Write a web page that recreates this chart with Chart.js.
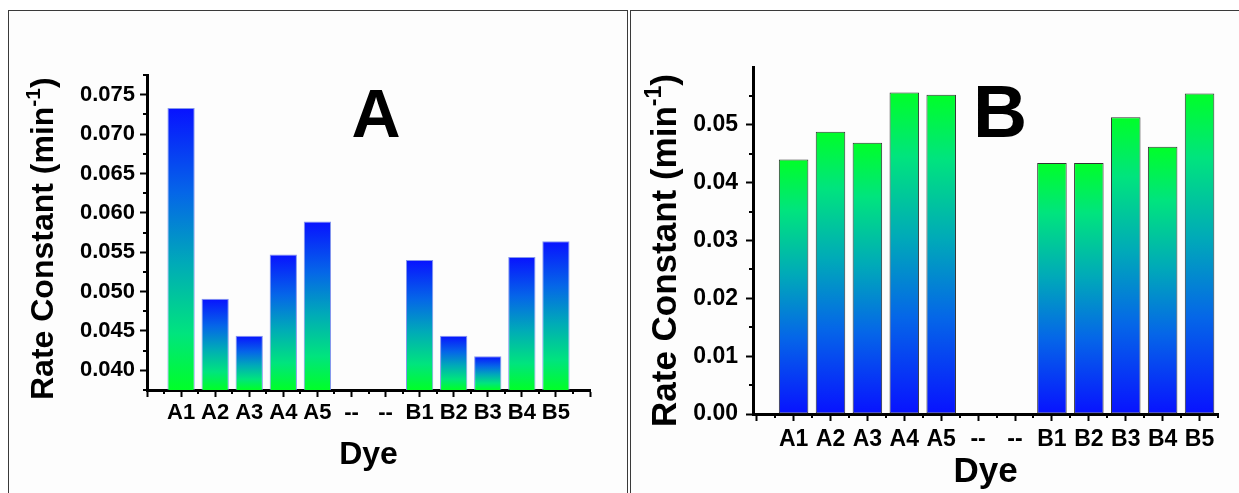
<!DOCTYPE html>
<html>
<head>
<meta charset="utf-8">
<script src="https://cdn.jsdelivr.net/npm/chart.js@4.4.1/dist/chart.umd.min.js"></script>
<style>
  body { margin: 0; width: 1239px; height: 493px; overflow: hidden; position: relative; background: #fff; }
  .frame { position: absolute; box-sizing: border-box; border: 1.5px solid #3a3a3a; background: #fdfdfd; }
  #frame-a { left: 8px; top: 10px; width: 620px; height: 520px; }
  #frame-b { left: 630px; top: 10px; width: 640px; height: 520px; }
  canvas { position: absolute; top: 0; }
  #chart-a { left: 0; }
  #chart-b { left: 629px; }
</style>
</head>
<body>
<div class="frame" id="frame-a"></div>
<div class="frame" id="frame-b"></div>
<canvas id="chart-a" width="629" height="493"></canvas>
<canvas id="chart-b" width="610" height="493"></canvas>
<script>
// Dye names along the x axis ("--" are empty slots)
const categories = ["A1", "A2", "A3", "A4", "A5", "--", "--", "B1", "B2", "B3", "B4", "B5"];

// Rate constants (min^-1)
const rateA = [0.0733, 0.0491, 0.0444, 0.0547, 0.0589, null, null, 0.0540, 0.0444, 0.0418, 0.0544, 0.0564];
const rateB = [0.0440, 0.0488, 0.0469, 0.0556, 0.0552, null, null, 0.0434, 0.0434, 0.0513, 0.0462, 0.0554];

// Major tick values on the y axes
const yTicksA = [0.040, 0.045, 0.050, 0.055, 0.060, 0.065, 0.070, 0.075];
const yTicksB = [0.00, 0.01, 0.02, 0.03, 0.04, 0.05];

const FONT = "'Liberation Sans', Arial, sans-serif";

// blue at the top of the bar, green at the bottom
const blueToGreen = [
  [0, "#0812ff"], [0.3, "#0566e8"], [0.55, "#00aab8"], [0.8, "#00e47e"], [1, "#00ff28"]
];
const greenToBlue = blueToGreen.map(([o, c]) => [1 - o, c]).reverse();

// Gradient spanning each bar from its top to the axis
const barGradient = (stops) => (ctx) => {
  const chart = ctx.chart;
  const area = chart.chartArea;
  if (!area || !ctx.parsed || ctx.parsed.y == null) return stops[0][1];
  const y = chart.scales.y;
  const top = y.getPixelForValue(ctx.parsed.y);
  const bottom = Math.min(y.getPixelForValue(0), area.bottom);
  const g = chart.ctx.createLinearGradient(0, top, 0, bottom);
  stops.forEach(([o, c]) => g.addColorStop(o, c));
  return g;
};

// Minor ticks halfway between the major ones, plus the y title and panel letter
const extras = {
  id: "extras",
  afterDraw(chart, args, o) {
    const ctx = chart.ctx;
    ctx.save();
    ctx.strokeStyle = "#000";
    ctx.lineWidth = 2;
    const x = chart.scales.x, y = chart.scales.y;
    o.xMinor.forEach((v) => {
      if (v < x.min || v > x.max) return;
      const px = Math.round(x.getPixelForValue(v));
      ctx.beginPath();
      ctx.moveTo(px, x.top);
      ctx.lineTo(px, x.top + 4);
      ctx.stroke();
    });
    o.yMinor.forEach((v) => {
      if (v < y.min - 1e-9 || v > y.max + 1e-9) return;
      const py = Math.round(y.getPixelForValue(v));
      ctx.beginPath();
      ctx.moveTo(y.right, py);
      ctx.lineTo(y.right - 4, py);
      ctx.stroke();
    });

    // rotated axis title with superscript
    ctx.fillStyle = "#000";
    ctx.translate(o.titleX, o.titleY);
    ctx.rotate(-Math.PI / 2);
    ctx.textBaseline = "alphabetic";
    ctx.textAlign = "left";
    const big = "bold " + o.titleSize + "px " + FONT;
    const small = "bold " + Math.round(o.titleSize * 0.66) + "px " + FONT;
    let cx = 0;
    ctx.font = big;
    ctx.fillText("Rate Constant (min", cx, 0);
    cx += ctx.measureText("Rate Constant (min").width;
    ctx.font = small;
    ctx.fillText("-1", cx, -o.titleSize * 0.42);
    cx += ctx.measureText("-1").width;
    ctx.font = big;
    ctx.fillText(")", cx, 0);
    ctx.restore();

    ctx.save();
    ctx.fillStyle = "#000";
    ctx.font = "bold " + o.letterSize + "px " + FONT;
    ctx.textAlign = "center";
    ctx.textBaseline = "alphabetic";
    ctx.fillText(o.letter, o.letterX, o.letterY);
    ctx.restore();
  },
};

const halfSteps = (majors) => {
  const step = majors[1] - majors[0];
  return [majors[0] - step / 2, ...majors.map((v) => v + step / 2)];
};

const makeChart = (id, values, p) => {
  const xMajors = [];
  for (let i = 0; i <= p.xLast; i++) xMajors.push(i);
  return new Chart(document.getElementById(id), {
    type: "bar",
    plugins: [extras],
    data: {
      datasets: [{
        data: values.map((v, i) => ({ x: i + 1, y: v })),
        backgroundColor: barGradient(p.stops),
        borderColor: p.edge,
        borderWidth: 1,
        borderSkipped: false,
        barPercentage: 0.8,
        categoryPercentage: 1,
      }],
    },
    options: {
      responsive: false,
      animation: false,
      layout: { padding: { left: 0, top: p.top, right: p.right, bottom: 0 } },
      plugins: {
        legend: { display: false },
        tooltip: { enabled: false },
        extras: {
          xMinor: halfSteps(xMajors),
          yMinor: halfSteps(p.yTicks),
          titleX: p.titleX, titleY: p.titleY, titleSize: p.titleSize,
          letter: p.letter, letterX: p.letterX, letterY: p.letterY, letterSize: p.letterSize,
        },
      },
      scales: {
        x: {
          type: "linear",
          min: p.xMin,
          max: p.xMax,
          offset: false,
          afterBuildTicks: (s) => { s.ticks = xMajors.map((v) => ({ value: v })); },
          afterFit: (s) => { s.height = p.xHeight; },
          grid: { offset: false, drawOnChartArea: false, tickLength: 7, tickWidth: 2, tickColor: "#000" },
          border: { width: 3, color: "#000" },
          ticks: {
            autoSkip: false,
            maxRotation: 0,
            padding: p.xPad,
            color: "#000",
            font: { family: FONT, size: p.xFont, weight: "bold" },
            callback: (v) => categories[v - 1] || "",
          },
          title: {
            display: true,
            text: "Dye",
            color: "#000",
            font: { family: FONT, size: p.dyeSize, weight: "bold" },
            padding: { top: 0, bottom: p.dyePad },
          },
        },
        y: {
          min: p.yMin,
          max: p.yMax,
          afterBuildTicks: (s) => { s.ticks = p.yTicks.map((v) => ({ value: v })); },
          afterFit: (s) => { s.width = p.yWidth; },
          grid: { drawOnChartArea: false, tickLength: 7, tickWidth: 2, tickColor: "#000" },
          border: { width: 3, color: "#000" },
          ticks: {
            padding: p.yPad,
            color: "#000",
            font: { family: FONT, size: p.yFont, weight: "bold" },
            callback: (v) => v.toFixed(p.decimals),
          },
        },
      },
    },
  });
};

makeChart("chart-a", rateA, {
  stops: blueToGreen, edge: "rgba(120,140,235,0.9)",
  xMin: 0, xMax: 13, xLast: 13, yMin: 0.0375, yMax: 0.0775, yTicks: yTicksA, decimals: 3,
  top: 75, right: 39, xHeight: 103, yWidth: 147,
  xPad: 3, xFont: 22, yPad: 5, yFont: 22, dyeSize: 32, dyePad: 19,
  titleX: 53, titleY: 400, titleSize: 32,
  letter: "A", letterX: 376, letterY: 137, letterSize: 68,
});

makeChart("chart-b", rateB, {
  stops: greenToBlue, edge: "#333",
  xMin: -0.1, xMax: 12.5, xLast: 12, yMin: 0, yMax: 0.06, yTicks: yTicksB, decimals: 2,
  top: 67, right: 21, xHeight: 79, yWidth: 124,
  xPad: 5, xFont: 23, yPad: 8, yFont: 23, dyeSize: 35, dyePad: 0,
  titleX: 47, titleY: 427, titleSize: 35,
  letter: "B", letterX: 371, letterY: 137, letterSize: 75,
});
</script>
</body>
</html>
